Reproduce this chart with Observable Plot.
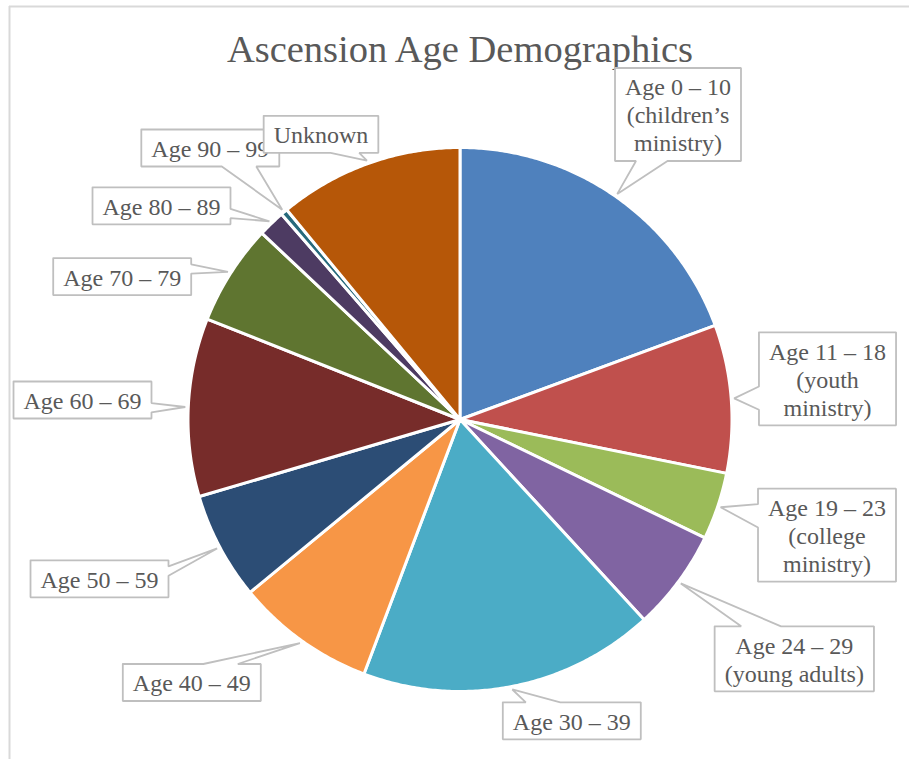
<!DOCTYPE html>
<html>
<head>
<meta charset="utf-8">
<script src="https://cdn.jsdelivr.net/npm/d3@7"></script>
<script src="https://cdn.jsdelivr.net/npm/@observablehq/plot@0.6"></script>
<style>
  html, body { margin: 0; padding: 0; background: #fff; overflow: hidden; }
</style>
</head>
<body>
<div id="chart"></div>
<script>
// ---------- data ----------
const title = "Ascension Age Demographics";
const categories = [
  "Age 0 – 10\n(children’s\nministry)",
  "Age 11 – 18\n(youth\nministry)",
  "Age 19 – 23\n(college\nministry)",
  "Age 24 – 29\n(young adults)",
  "Age 30 – 39",
  "Age 40 – 49",
  "Age 50 – 59",
  "Age 60 – 69",
  "Age 70 – 79",
  "Age 80 – 89",
  "Age 90 – 99",
  "Unknown"
];
// share of members, percent
const values = [19.4, 8.8, 4.0, 6.0, 17.6, 8.3, 6.4, 10.6, 6.0, 1.6, 0.4, 11.0];
const colors = ["#4F81BD", "#C0504D", "#9BBB59", "#8064A2", "#4BACC6", "#F79646",
                "#2C4D75", "#772C2A", "#5F7530", "#4D3B62", "#276A7C", "#B65708"];

// ---------- layout ----------
const W = 909, H = 759;
const CX = 459.5, CY = 419, R = 272;
const FONT = "Liberation Serif";
const FS = 24, LH = 28, PADX = 10, PADY = 4.5;
// callout box centres (px) and edge carrying the pointer
const labelLayout = [
  {bx: 677.5, by: 114,   side: "bottom"},
  {bx: 827,   by: 378.3, side: "left"},
  {bx: 826.5, by: 534.7, side: "left"},
  {bx: 793.8, by: 658.3, side: "top"},
  {bx: 571.3, by: 720.3, side: "top"},
  {bx: 191.3, by: 682,   side: "top"},
  {bx: 99,    by: 578.3, side: "right"},
  {bx: 82,    by: 399.5, side: "right"},
  {bx: 121.7, by: 276.2, side: "right"},
  {bx: 161,   by: 205.3, side: "right"},
  {bx: 209.8, by: 147.5, side: "bottom"},
  {bx: 320.5, by: 133.8, side: "bottom"}
];

// ---------- build ----------
const rows = categories.map((c, i) => ({cat: c, value: values[i]}));
const arcs = d3.pie().sort(null).value(d => d.value).startAngle(0).endAngle(2 * Math.PI)(rows);

const slicePts = arcs.flatMap(a => {
  const cat = a.data.cat;
  const pts = [{cat, x: CX, y: CY}];
  const n = Math.max(2, Math.ceil((a.endAngle - a.startAngle) / (Math.PI / 360)));
  for (let k = 0; k <= n; k++) {
    const t = a.startAngle + (a.endAngle - a.startAngle) * k / n;
    pts.push({cat, x: CX + R * Math.sin(t), y: CY - R * Math.cos(t)});
  }
  pts.push({cat, x: CX, y: CY});
  return pts;
});

const ctx = document.createElement("canvas").getContext("2d");
ctx.font = `${FS}px "${FONT}"`;

function calloutPts(i) {
  const a = arcs[i];
  const mid = (a.startAngle + a.endAngle) / 2;
  const tx = CX + (R + 3) * Math.sin(mid), ty = CY - (R + 3) * Math.cos(mid);
  const lines = categories[i].split("\n");
  const w = d3.max(lines, l => ctx.measureText(l).width) + 2 * PADX;
  const h = lines.length * LH + 2 * PADY;
  const L = labelLayout[i];
  const x0 = L.bx - w / 2, x1 = L.bx + w / 2, y0 = L.by - h / 2, y1 = L.by + h / 2;
  const horiz = L.side === "top" || L.side === "bottom";
  const neg = horiz ? tx < L.bx : ty < L.by;
  const fa = neg ? 2 / 12 : 7 / 12, fb = neg ? 5 / 12 : 10 / 12;
  const tip = [tx, ty];
  let p = [[x0, y0]];
  if (L.side === "top") p.push([x0 + fa * w, y0], tip, [x0 + fb * w, y0]);
  p.push([x1, y0]);
  if (L.side === "right") p.push([x1, y0 + fa * h], tip, [x1, y0 + fb * h]);
  p.push([x1, y1]);
  if (L.side === "bottom") p.push([x0 + fb * w, y1], tip, [x0 + fa * w, y1]);
  p.push([x0, y1]);
  if (L.side === "left") p.push([x0, y0 + fb * h], tip, [x0, y0 + fa * h]);
  p.push([x0, y0]);
  return p.map(([x, y]) => ({x, y}));
}

const labelMarks = categories.flatMap((c, i) => [
  Plot.line(calloutPts(i), {x: "x", y: "y", fill: "white", stroke: "#BFBFBF", strokeWidth: 1.8, strokeLinejoin: "miter"}),
  Plot.text([{t: c, ...labelLayout[i]}], {
    x: "bx", y: "by", text: "t", fill: "#595959", fontSize: FS, fontFamily: FONT,
    lineHeight: LH / FS, textAnchor: "middle", lineAnchor: "middle"
  })
]);

const chart = Plot.plot({
  width: W, height: H,
  margin: 0,
  x: {domain: [0, W], range: [0, W], axis: null},
  y: {domain: [0, H], range: [0, H], axis: null},
  color: {type: "ordinal", domain: categories, range: colors},
  style: {fontFamily: FONT, background: "white"},
  marks: [
    Plot.ruleY([6], {x1: 9, x2: W, stroke: "#D9D9D9", strokeWidth: 2}),
    Plot.ruleX([9], {y1: 6, y2: H, stroke: "#D9D9D9", strokeWidth: 2}),
    Plot.text([title], {frameAnchor: "top", lineAnchor: "top", dx: 5, dy: 34,
      fontSize: 38.5, fontFamily: FONT, fill: "#595959"}),
    Plot.line(slicePts, {x: "x", y: "y", z: "cat", fill: "cat", stroke: "white",
      strokeWidth: 3, strokeLinejoin: "round"}),
    ...labelMarks
  ]
});
document.getElementById("chart").appendChild(chart);
</script>
</body>
</html>
